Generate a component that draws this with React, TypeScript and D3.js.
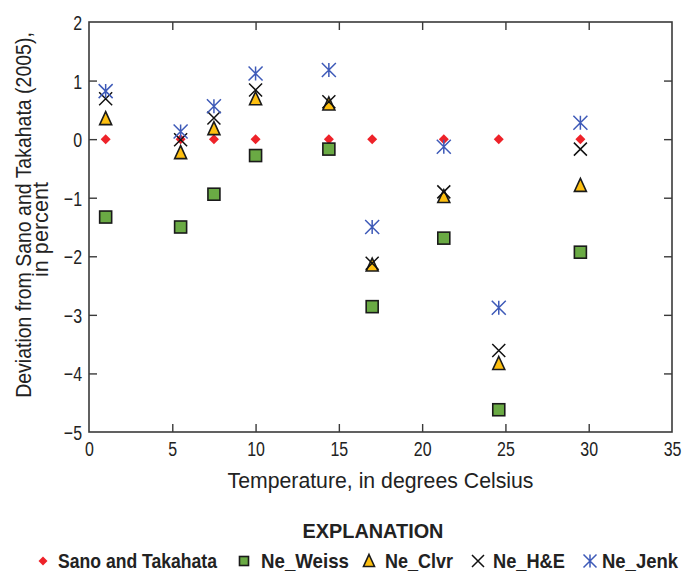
import React, { useEffect, useRef } from "react";
import * as d3 from "d3";

// temperatures (deg C) where each model was compared
const temps = [1.0, 5.5, 7.5, 10, 14.4, 17, 21.3, 24.6, 29.5];

// deviation from Sano and Takahata (2005), percent
const sano = [0, 0, 0, 0, 0, 0, 0, 0, 0];
const neWeiss = [-1.33, -1.5, -0.94, -0.28, -0.17, -2.86, -1.69, -4.62, -1.93];
const neClvr = [0.35, -0.23, 0.18, 0.69, 0.6, -2.15, -0.98, -3.83, -0.79];
const neHE = [0.69, -0.01, 0.36, 0.84, 0.64, -2.12, -0.9, -3.61, -0.17];
const neJenk = [0.82, 0.13, 0.56, 1.12, 1.18, -1.5, -0.13, -2.88, 0.28];

const xTicks = [0, 5, 10, 15, 20, 25, 30, 35];
const yTicks = [2, 1, 0, -1, -2, -3, -4, -5];

const seriesNames = ["Sano and Takahata", "Ne_Weiss", "Ne_Clvr", "Ne_H&E", "Ne_Jenk"];

const FONT = "'Liberation Sans', Arial, sans-serif";
const SQUEEZE = 0.76; // the original uses a condensed face

const drawMarker = (g, kind, s) => {
	if (kind === "diamond") {
		g.append("path")
			.attr("d", `M0,${-s / 2}L${s / 2},0L0,${s / 2}L${-s / 2},0Z`)
			.attr("fill", "#ee2229");
	} else if (kind === "square") {
		g.append("rect")
			.attr("x", -s / 2)
			.attr("y", -s / 2)
			.attr("width", s)
			.attr("height", s)
			.attr("fill", "#6aaa44")
			.attr("stroke", "#1a1a1a")
			.attr("stroke-width", 1.6);
	} else if (kind === "triangle") {
		const h = s;
		g.append("path")
			.attr("d", `M0,${-h / 2 - 1}L${s / 2},${h / 2}L${-s / 2},${h / 2}Z`)
			.attr("fill", "#fdbf10")
			.attr("stroke", "#1a1a1a")
			.attr("stroke-width", 1.6);
	} else if (kind === "x") {
		const r = s / 2;
		g.append("path")
			.attr("d", `M${-r},${-r}L${r},${r}M${-r},${r}L${r},${-r}`)
			.attr("stroke", "#111")
			.attr("stroke-width", 1.5)
			.attr("fill", "none");
	} else if (kind === "asterisk") {
		const r = s / 2;
		const d = `M${-r},${-r}L${r},${r}M${-r},${r}L${r},${-r}M0,${-r}L0,${r}`;
		g.append("path")
			.attr("d", d)
			.attr("stroke", "#3e5ab8")
			.attr("stroke-width", 1.5)
			.attr("fill", "none");
	}
};

// text squeezed horizontally to a known width (measured, then scaled)
const fitText = (sel, x, y, str, w, size, bold, anchor = "start", rotate = 0) => {
	const t = sel.append("text")
		.attr("text-anchor", anchor)
		.attr("fill", "#222")
		.style("font-family", FONT)
		.style("font-size", size + "px")
		.style("font-weight", bold ? "bold" : "normal")
		.text(str);
	const natural = t.node().getComputedTextLength() || w;
	const sx = w / natural;
	t.attr("transform", `translate(${x},${y}) rotate(${rotate}) scale(${sx},1)`);
	return t;
};

const drawChart = (svgRef) => {
	const width = 682,
		height = 571;
	const margin = { left: 89, right: 10, top: 22, bottom: 139 };

	const svg = d3.select(svgRef.current);
	svg.selectAll("*").remove();
	svg.attr("width", width).attr("height", height);

	const x = d3.scaleLinear().domain([0, 35]).range([margin.left, width - margin.right]);
	const y = d3.scaleLinear().domain([-5, 2]).range([height - margin.bottom, margin.top]);

	const axisColor = "#3a3a3a";
	const tickLen = 8;

	// frame
	svg.append("rect")
		.attr("x", x(0))
		.attr("y", y(2))
		.attr("width", x(35) - x(0))
		.attr("height", y(-5) - y(2))
		.attr("fill", "none")
		.attr("stroke", axisColor)
		.attr("stroke-width", 1.6);

	// inward ticks on all four sides
	const bottom = d3.axisBottom(x).tickValues(xTicks).tickSizeInner(-tickLen).tickSizeOuter(0).tickPadding(10);
	const gx = svg.append("g").attr("transform", `translate(0,${y(-5)})`).call(bottom);
	const top = d3.axisTop(x).tickValues(xTicks).tickSizeInner(-tickLen).tickSizeOuter(0).tickFormat(() => "");
	const gxt = svg.append("g").attr("transform", `translate(0,${y(2)})`).call(top);

	const left = d3.axisLeft(y).tickValues(yTicks).tickSizeInner(-tickLen).tickSizeOuter(0).tickPadding(7)
		.tickFormat((d) => (d < 0 ? "\u2212" + Math.abs(d) : String(d)));
	const gy = svg.append("g").attr("transform", `translate(${x(0)},0)`).call(left);
	const right = d3.axisRight(y).tickValues(yTicks).tickSizeInner(-tickLen).tickSizeOuter(0).tickFormat(() => "");
	const gyr = svg.append("g").attr("transform", `translate(${x(35)},0)`).call(right);

	[gx, gxt, gy, gyr].forEach((g) => {
		g.select(".domain").remove();
		g.selectAll(".tick line").attr("stroke", axisColor).attr("stroke-width", 1.4);
		g.selectAll(".tick text")
			.attr("fill", "#222")
			.style("font-family", FONT)
			.style("font-size", "21px");
	});
	[gx, gxt].forEach((g) => g.selectAll(".tick").filter((d) => d === 0 || d === 35).select("line").remove());
	[gy, gyr].forEach((g) => g.selectAll(".tick").filter((d) => d === 2 || d === -5).select("line").remove());

	gx.selectAll(".tick text").attr("y", 9).attr("transform", `scale(${SQUEEZE},1)`);
	gy.selectAll(".tick text")
		.attr("x", -7 / SQUEEZE)
		.attr("dy", "0.36em")
		.attr("transform", `scale(${SQUEEZE},1)`);

	// axis titles
	fitText(svg, (x(0) + x(35)) / 2, 488, "Temperature, in degrees Celsius", 306, 22, false, "middle");
	fitText(svg, 31, 215, "Deviation from Sano and Takahata (2005),", 366, 22, false, "middle", -90);
	fitText(svg, 48, 229.5, "in percent", 95, 22, false, "middle", -90);

	// data points
	const series = [
		{ values: sano, kind: "diamond", size: 10 },
		{ values: neWeiss, kind: "square", size: 12 },
		{ values: neClvr, kind: "triangle", size: 12 },
		{ values: neHE, kind: "x", size: 13 },
		{ values: neJenk, kind: "asterisk", size: 14 },
	];
	const plot = svg.append("g");
	series.forEach((s) => {
		temps.forEach((t, i) => {
			const g = plot.append("g").attr("transform", `translate(${x(t)},${y(s.values[i])})`);
			drawMarker(g, s.kind, s.size);
		});
	});

	// legend
	fitText(svg, 373, 538, "EXPLANATION", 141, 21, true, "middle");

	const legendKinds = ["diamond", "square", "triangle", "x", "asterisk"];
	const legendSizes = [9, 9, 11, 12, 13];
	const legendX = [43, 244, 369, 478, 590];
	const legendTextX = [58, 261, 385, 493, 602];
	const legendTextW = [159, 88, 68, 72, 76];
	seriesNames.forEach((name, i) => {
		const g = svg.append("g").attr("transform", `translate(${legendX[i]},561)`);
		drawMarker(g, legendKinds[i], legendSizes[i]);
		fitText(svg, legendTextX[i], 568, name, legendTextW[i], 20, true);
	});
};

const App = () => {
	const svg = useRef(null);

	useEffect(() => {
		drawChart(svg);
	}, []);

	return (
		<div>
			<svg ref={svg} style={{ position: "absolute", left: 0, top: 0, display: "block" }} />
		</div>
	);
};

export default App;
